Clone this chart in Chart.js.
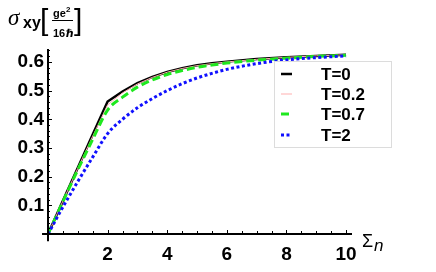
<!DOCTYPE html>
<html>
<head>
<meta charset="utf-8">
<script src="https://cdn.jsdelivr.net/npm/chart.js@4/dist/chart.umd.min.js"></script>
<style>
  html, body { margin: 0; padding: 0; background: #fff; }
  #c { display: block; }
</style>
</head>
<body>
<canvas id="c" width="436" height="272"></canvas>
<script>
// valores
var SIGMA = [0, 0.5, 1, 1.5, 2, 2.5, 3, 3.5, 4, 4.5, 5, 5.5, 6, 7, 8, 9, 10];
var T0   = [0, 0.1155, 0.231, 0.3465, 0.462, 0.497, 0.526, 0.548, 0.565, 0.578, 0.588, 0.595, 0.601, 0.610, 0.616, 0.621, 0.625];
var T02  = [0, 0.115, 0.229, 0.341, 0.450, 0.492, 0.523, 0.546, 0.564, 0.577, 0.587, 0.594, 0.600, 0.609, 0.616, 0.621, 0.625];
var T07  = [0, 0.113, 0.224, 0.330, 0.432, 0.477, 0.512, 0.537, 0.556, 0.570, 0.581, 0.589, 0.596, 0.606, 0.613, 0.619, 0.623];
var T2   = [0, 0.094, 0.183, 0.268, 0.350, 0.400, 0.440, 0.472, 0.500, 0.524, 0.544, 0.560, 0.574, 0.594, 0.607, 0.615, 0.621];
var ROTULOS = ["T=0", "T=0.2", "T=0.7", "T=2"];
var X_TICKS = [2, 4, 6, 8, 10];
var Y_TICKS = [0.1, 0.2, 0.3, 0.4, 0.5, 0.6];

var FONTE = '"Liberation Sans", Arial, sans-serif';

function pontos(ys) {
  return SIGMA.map(function (x, i) { return { x: x, y: ys[i] }; });
}

// eixos e marcas para dentro, à maneira do Mathematica
var eixos = {
  id: "eixos",
  afterDatasetsDraw: function (chart) {
    var ctx = chart.ctx, xs = chart.scales.x, ys = chart.scales.y;
    var y0 = ys.getPixelForValue(0), x0 = xs.getPixelForValue(0);
    ctx.save();
    ctx.strokeStyle = "#000";
    ctx.lineWidth = 2;
    ctx.beginPath();
    ctx.moveTo(xs.getPixelForValue(-0.2), y0);
    ctx.lineTo(chart.chartArea.right, y0);
    ctx.moveTo(x0, ys.getPixelForValue(-0.025));
    ctx.lineTo(x0, chart.chartArea.top);
    ctx.stroke();
    ctx.lineWidth = 1;
    ctx.beginPath();
    var v, p, len;
    for (v = 0.5; v <= 10.01; v += 0.5) {
      p = Math.round(xs.getPixelForValue(v)) + 0.5;
      len = (Math.abs(v / 2 - Math.round(v / 2)) < 0.01) ? 4 : 3;
      ctx.moveTo(p, y0);
      ctx.lineTo(p, y0 - len);
    }
    for (v = 0.02; v <= 0.641; v += 0.02) {
      p = Math.round(ys.getPixelForValue(v)) + 0.5;
      len = (Math.abs(v * 10 - Math.round(v * 10)) < 0.01) ? 4 : 2;
      ctx.moveTo(x0, p);
      ctx.lineTo(x0 + len, p);
    }
    ctx.stroke();
    ctx.restore();
  },
  afterDraw: function (chart) {
    var ctx = chart.ctx;
    ctx.save();
    ctx.fillStyle = "#000";
    ctx.textBaseline = "alphabetic";
    ctx.textAlign = "left";
    // título do eixo y
    ctx.font = 'italic 23px "Liberation Serif", "DejaVu Serif", serif';
    ctx.fillText("σ", 8, 25);
    ctx.font = "bold 16px " + FONTE;
    ctx.fillText("xy", 23, 28);
    ctx.font = "30px " + FONTE;
    ctx.fillText("[", 40, 30);
    ctx.fillText("]", 74, 30);
    ctx.font = "bold 11px " + FONTE;
    ctx.fillText("ge", 53, 17);
    ctx.font = "bold 8px " + FONTE;
    ctx.fillText("2", 66, 12);
    ctx.font = 'bold 11px ' + FONTE + ', "DejaVu Sans"';
    ctx.fillText("16", 53, 37);
    ctx.font = 'italic bold 11px "DejaVu Sans", sans-serif';
    ctx.fillText("ℏ", 66, 37);
    ctx.lineWidth = 1;
    ctx.beginPath();
    ctx.moveTo(52, 20.5);
    ctx.lineTo(73, 20.5);
    ctx.stroke();
    // título do eixo x
    ctx.font = "18px " + FONTE;
    ctx.fillText("Σ", 362, 247);
    ctx.font = "italic 17px " + FONTE;
    ctx.fillText("n", 374, 251);

    // legenda
    ctx.fillStyle = "#fff";
    ctx.fillRect(274.5, 61.5, 117, 86);
    ctx.strokeStyle = "#dcdcdc";
    ctx.lineWidth = 1;
    ctx.strokeRect(274.5, 61.5, 117, 86);
    var linhas = [74, 94, 114, 135];
    chart.data.datasets.forEach(function (ds, i) {
      var y = linhas[i];
      ctx.strokeStyle = ds.borderColor;
      ctx.lineWidth = ds.borderWidth;
      ctx.setLineDash(ds.borderDash || []);
      ctx.beginPath();
      ctx.moveTo(281, y);
      ctx.lineTo(292, y);
      ctx.stroke();
      ctx.setLineDash([]);
      ctx.fillStyle = "#000";
      ctx.font = "bold 17px " + FONTE;
      ctx.textBaseline = "middle";
      ctx.fillText(ROTULOS[i], 321, y + 1);
    });
    ctx.restore();
  }
};

new Chart(document.getElementById("c"), {
  type: "line",
  data: {
    datasets: [
      { label: ROTULOS[0], data: pontos(T0), borderColor: "#000000", borderWidth: 2.5, tension: 0, order: 4 },
      { label: ROTULOS[1], data: pontos(T02), borderColor: "#ffafaf", borderWidth: 1, tension: 0, order: 3 },
      { label: ROTULOS[2], data: pontos(T07), borderColor: "#1ee81e", borderWidth: 3, borderDash: [8, 4], cubicInterpolationMode: "monotone", order: 2 },
      { label: ROTULOS[3], data: pontos(T2), borderColor: "#1010ff", borderWidth: 3, borderDash: [3, 2.5], cubicInterpolationMode: "monotone", order: 1 }
    ]
  },
  options: {
    responsive: false,
    animation: false,
    elements: { point: { radius: 0 } },
    layout: { padding: { left: 0, top: 49, right: 84, bottom: 0 } },
    plugins: { legend: { display: false }, tooltip: { enabled: false } },
    scales: {
      x: {
        type: "linear",
        min: 0,
        max: 10.2,
        grid: { display: false, drawTicks: false },
        border: { display: false },
        afterFit: function (s) { s.height = 38; },
        afterBuildTicks: function (s) { s.ticks = X_TICKS.map(function (v) { return { value: v }; }); },
        ticks: {
          padding: 9,
          color: "#000",
          font: { family: FONTE, size: 19, weight: "bold" },
          callback: function (v) { return String(v); }
        }
      },
      y: {
        min: 0,
        max: 0.645,
        grid: { display: false, drawTicks: false },
        border: { display: false },
        afterFit: function (s) { s.width = 48; },
        afterBuildTicks: function (s) { s.ticks = Y_TICKS.map(function (v) { return { value: v }; }); },
        ticks: {
          padding: 4,
          color: "#000",
          font: { family: FONTE, size: 19, weight: "bold" },
          callback: function (v) { return v.toFixed(1); }
        }
      }
    }
  },
  plugins: [eixos]
});
</script>
</body>
</html>
